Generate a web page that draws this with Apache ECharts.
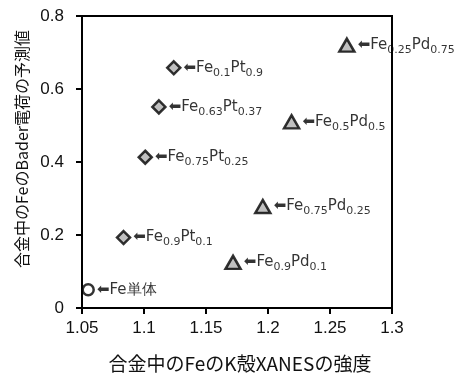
<!DOCTYPE html>
<html><head><meta charset="utf-8">
<script src="https://cdn.jsdelivr.net/npm/echarts@6/dist/echarts.min.js"></script>
<style>html,body{margin:0;padding:0;background:#fff}#c{width:455px;height:376px}</style>
</head><body><div id="c"></div>
<script>
var xTicks = [1.05, 1.1, 1.15, 1.2, 1.25, 1.3];
var yTicks = [0, 0.2, 0.4, 0.6, 0.8];
var ptX = [1.0835, 1.101, 1.112, 1.124];
var ptY = [0.193, 0.413, 0.551, 0.658];
var ptNames = [['Fe','0.9','Pt','0.1'],['Fe','0.75','Pt','0.25'],['Fe','0.63','Pt','0.37'],['Fe','0.1','Pt','0.9']];
var pdX = [1.1718, 1.1958, 1.219, 1.2636];
var pdY = [0.125, 0.278, 0.51, 0.72];
var pdNames = [['Fe','0.9','Pd','0.1'],['Fe','0.75','Pd','0.25'],['Fe','0.5','Pd','0.5'],['Fe','0.25','Pd','0.75']];
var feX = [1.055];
var feY = [0.05];
var feNames = ['Fe単体'];
var xTitle = '合金中のFeのK殻XANESの強度';
var yTitle = '合金中のFeのBader電荷の予測値';

function fmt(p){ return '{a|⬅}{m|'+p[0]+'}{s|'+p[1]+'}{m|'+p[2]+'}{s|'+p[3]+'}'; }
var rich = {
  a:{fontFamily:'"DejaVu Sans"',fontSize:15,color:'#000',padding:[0,0,0,0]},
  m:{fontFamily:'"DejaVu Sans"',fontSize:15,color:'#000'},
  s:{fontFamily:'"DejaVu Sans"',fontSize:11,color:'#000',padding:[10,0,0,0]}
};
function build(xs, ys, names, isPlain){
  return xs.map(function(x,i){
    return {value:[x, ys[i]], label:{formatter: isPlain ? '{a|⬅}{m|'+names[i]+'}' : fmt(names[i])}};
  });
}
var chart = echarts.init(document.getElementById('c'));
var lbl = {show:true, position:'right', distance:2, rich:rich};
chart.setOption({
  animation:false,
  grid:{left:82,right:63,top:16,bottom:68,show:true,borderColor:'#000',borderWidth:2,backgroundColor:'transparent'},
  xAxis:{type:'value',min:1.05,max:1.3,interval:0.05,
    axisLine:{onZero:false,lineStyle:{color:'#000',width:2}},
    axisTick:{show:true,inside:false,length:6,lineStyle:{color:'#000',width:2}},
    splitLine:{show:false},
    axisLabel:{margin:12,fontFamily:'Liberation Sans',fontSize:17,color:'#111',
      formatter:function(v){ var s = xTicks.filter(function(t){return Math.abs(t-v)<1e-6;}); return s.length? String(s[0]) : ''; }}
  },
  yAxis:{type:'value',min:0,max:0.8,interval:0.2,
    axisLine:{show:true,onZero:false,lineStyle:{color:'#000',width:2}},
    axisTick:{show:true,inside:false,length:6,lineStyle:{color:'#000',width:2}},
    splitLine:{show:false},
    axisLabel:{margin:18,fontFamily:'Liberation Sans',fontSize:17,color:'#111',
      formatter:function(v){ var s = yTicks.filter(function(t){return Math.abs(t-v)<1e-6;}); return s.length? String(s[0]) : ''; }}
  },
  graphic:[
    {type:'text',x:240,y:364,style:{text:xTitle,font:'19px "Noto Sans CJK JP"',fill:'#111',align:'center',verticalAlign:'middle'}},
    {type:'text',x:22,y:149,rotation:Math.PI/2,style:{text:yTitle,font:'16px "Noto Sans CJK JP"',fill:'#111',align:'center',verticalAlign:'middle'}}
  ],
  series:[
    {type:'scatter',symbol:'diamond',symbolSize:13,itemStyle:{color:'#b0b0b0',borderColor:'#000',borderWidth:2.5},label:lbl,data:build(ptX,ptY,ptNames,false)},
    {type:'scatter',symbol:'triangle',symbolSize:[15,13],itemStyle:{color:'#b0b0b0',borderColor:'#000',borderWidth:2.5},label:lbl,data:build(pdX,pdY,pdNames,false)},
    {type:'scatter',symbol:'circle',symbolSize:11,itemStyle:{color:'#fff',borderColor:'#000',borderWidth:2.5},label:lbl,data:build(feX,feY,feNames,true)}
  ]
});
</script></body></html>
